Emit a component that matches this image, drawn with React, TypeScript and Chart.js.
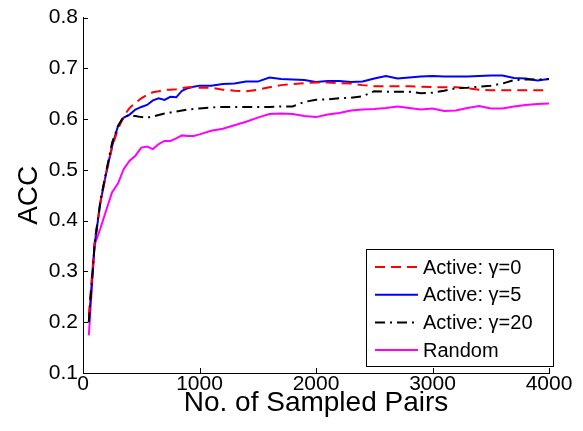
import { useEffect, useRef } from "react";
import { Chart, registerables } from "chart.js";

Chart.register(...registerables);

const sampledPairs = [
  50, 100, 150, 200, 250, 300, 350, 400, 450, 500, 550, 600, 650, 700, 750, 800, 850, 900, 950, 1000,
  1100, 1200, 1300, 1400, 1500, 1600, 1700, 1800, 1900, 2000, 2100, 2200, 2300, 2400, 2500, 2600, 2700,
  2800, 2900, 3000, 3100, 3200, 3300, 3400, 3500, 3600, 3700, 3800, 3900, 4000,
];

const activeGamma0 = [
  0.213, 0.359, 0.437, 0.495, 0.545, 0.58, 0.606, 0.622, 0.632, 0.641, 0.648, 0.653, 0.655, 0.658, 0.658,
  0.659, 0.661, 0.663, 0.663, 0.662, 0.662, 0.658, 0.656, 0.655, 0.658, 0.663, 0.667, 0.669, 0.671, 0.672,
  0.672, 0.671, 0.67, 0.667, 0.665, 0.665, 0.665, 0.665, 0.664, 0.663, 0.663, 0.663, 0.661, 0.658, 0.657,
  0.657, 0.657, 0.657, 0.657, 0.657,
];

const activeGamma5 = [
  0.2, 0.353, 0.437, 0.495, 0.547, 0.586, 0.603, 0.609, 0.619, 0.624, 0.628, 0.637, 0.641, 0.638, 0.644,
  0.643, 0.656, 0.661, 0.664, 0.666, 0.666, 0.669, 0.67, 0.674, 0.674, 0.682, 0.679, 0.678, 0.677, 0.673,
  0.675, 0.675, 0.673, 0.674, 0.68, 0.685, 0.68, 0.682, 0.684, 0.685, 0.684, 0.684, 0.684, 0.685, 0.686,
  0.686, 0.681, 0.68, 0.676, 0.679,
];

const activeGamma20 = [
  0.2, 0.355, 0.44, 0.498, 0.554, 0.586, 0.606, 0.607, 0.606, 0.604, 0.603, 0.605, 0.608, 0.611, 0.613,
  0.615, 0.617, 0.619, 0.62, 0.621, 0.623, 0.624, 0.624, 0.624, 0.624, 0.624, 0.625, 0.625, 0.634, 0.638,
  0.639, 0.641, 0.642, 0.645, 0.655, 0.654, 0.654, 0.654, 0.651, 0.652, 0.656, 0.661, 0.662, 0.664, 0.666,
  0.67, 0.677, 0.678, 0.678, 0.679,
];

const randomSampling = [
  0.174, 0.353, 0.385, 0.421, 0.456, 0.473, 0.502, 0.518, 0.528, 0.544, 0.546, 0.541, 0.551, 0.557, 0.557,
  0.562, 0.568, 0.567, 0.567, 0.57, 0.577, 0.581, 0.588, 0.595, 0.603, 0.61, 0.611, 0.61, 0.606, 0.604,
  0.609, 0.612, 0.617, 0.619, 0.62, 0.622, 0.625, 0.622, 0.619, 0.621, 0.616, 0.617, 0.622, 0.626, 0.621,
  0.621, 0.625, 0.628, 0.63, 0.631,
];

const seriesLabels = ["Active: γ=0", "Active: γ=5", "Active: γ=20", "Random"];
const xTickValues = [0, 1000, 2000, 3000, 4000];
const yTickValues = [0.1, 0.2, 0.3, 0.4, 0.5, 0.6, 0.7, 0.8];

const FONT = "'Liberation Sans', Arial, Helvetica, sans-serif";

const toPoints = (ys: number[]) => ys.map((y, i) => ({ x: sampledPairs[i], y }));

const innerTicks = {
  id: "innerTicks",
  afterDraw(chart: any) {
    const { ctx, chartArea, scales } = chart;
    const xs = scales.x;
    const ys = scales.y;
    ctx.save();
    ctx.strokeStyle = "#000";
    ctx.lineWidth = 1;
    xs.ticks.forEach((t: any) => {
      const px = Math.round(xs.getPixelForValue(t.value)) + 0.5;
      ctx.beginPath();
      ctx.moveTo(px, chartArea.bottom);
      ctx.lineTo(px, chartArea.bottom - 5);
      ctx.stroke();
    });
    ys.ticks.forEach((t: any) => {
      const py = Math.round(ys.getPixelForValue(t.value)) + 0.5;
      ctx.beginPath();
      ctx.moveTo(chartArea.left, py);
      ctx.lineTo(chartArea.left + 5, py);
      ctx.stroke();
    });
    ctx.restore();
  },
};

const boxLegend = {
  id: "boxLegend",
  afterDraw(chart: any) {
    const { ctx, chartArea } = chart;
    const right = chartArea.right + 4;
    const bottom = chartArea.bottom - 7;
    const w = 187;
    const h = 117;
    const left = right - w;
    const top = bottom - h;
    ctx.save();
    ctx.fillStyle = "#fff";
    ctx.fillRect(left, top, w, h);
    ctx.strokeStyle = "#000";
    ctx.lineWidth = 1;
    ctx.strokeRect(Math.round(left) + 0.5, Math.round(top) + 0.5, w, h);
    ctx.font = `20px ${FONT}`;
    ctx.textBaseline = "middle";
    ctx.textAlign = "left";
    chart.data.datasets.forEach((ds: any, i: number) => {
      const y = top + 18 + i * 27.7;
      ctx.beginPath();
      ctx.strokeStyle = ds.borderColor;
      ctx.lineWidth = ds.borderWidth;
      ctx.setLineDash(ds.borderDash || []);
      ctx.moveTo(left + 9, y);
      ctx.lineTo(left + 52, y);
      ctx.stroke();
      ctx.setLineDash([]);
      ctx.fillStyle = "#000";
      ctx.fillText(ds.label, left + 57, y + 1);
    });
    ctx.restore();
  },
};

export default function App() {
  const ref = useRef<HTMLCanvasElement | null>(null);

  useEffect(() => {
    if (!ref.current) return;
    const chart = new Chart(ref.current, {
      type: "line",
      data: {
        datasets: [
          {
            label: seriesLabels[0],
            data: toPoints(activeGamma0),
            borderColor: "#ff0000",
            borderWidth: 2,
            borderDash: [10, 6],
            order: 1,
          },
          {
            label: seriesLabels[1],
            data: toPoints(activeGamma5),
            borderColor: "#0000ff",
            borderWidth: 2,
            order: 2,
          },
          {
            label: seriesLabels[2],
            data: toPoints(activeGamma20),
            borderColor: "#000000",
            borderWidth: 2,
            borderDash: [10, 5, 2, 5],
            order: 0,
          },
          {
            label: seriesLabels[3],
            data: toPoints(randomSampling),
            borderColor: "#ff00ff",
            borderWidth: 2,
            order: 3,
          },
        ] as any,
      },
      options: {
        responsive: false,
        animation: false,
        devicePixelRatio: 1,
        layout: { padding: { left: 0, right: 34, top: 13, bottom: 0 } },
        elements: { point: { radius: 0 }, line: { tension: 0 } },
        plugins: { legend: { display: false }, tooltip: { enabled: false } },
        scales: {
          x: {
            type: "linear",
            min: 0,
            max: 4000,
            afterBuildTicks: (s: any) => {
              s.ticks = xTickValues.map((v) => ({ value: v }));
            },
            afterFit: (s: any) => {
              s.height = 58;
            },
            grid: { display: false, drawTicks: false },
            border: { display: true, color: "#000", width: 1 },
            ticks: {
              color: "#000",
              padding: -1,
              maxRotation: 0,
              font: { family: FONT, size: 21 },
              callback: (v: any) => String(v),
            },
            title: {
              display: true,
              text: "No. of Sampled Pairs",
              color: "#000",
              font: { family: FONT, size: 28 },
              padding: { top: 0, bottom: 11 },
            },
          },
          y: {
            type: "linear",
            min: 0.1,
            max: 0.8,
            afterBuildTicks: (s: any) => {
              s.ticks = yTickValues.map((v) => ({ value: v }));
            },
            afterFit: (s: any) => {
              s.width = 83;
            },
            grid: { display: false, drawTicks: false },
            border: { display: true, color: "#000", width: 1 },
            ticks: {
              color: "#000",
              padding: 5,
              font: { family: FONT, size: 21 },
              callback: (v: any) => Number(v).toFixed(1),
            },
            title: {
              display: true,
              text: "ACC",
              color: "#000",
              font: { family: FONT, size: 28 },
              padding: { top: 12, bottom: 0 },
            },
          },
        },
      },
      plugins: [innerTicks, boxLegend],
    });
    return () => chart.destroy();
  }, []);

  return (
    <div style={{ position: "absolute", left: 0, top: 0, width: 583, height: 431, background: "#fff" }}>
      <canvas ref={ref} width={583} height={431} style={{ width: 583, height: 431, display: "block" }} />
    </div>
  );
}
